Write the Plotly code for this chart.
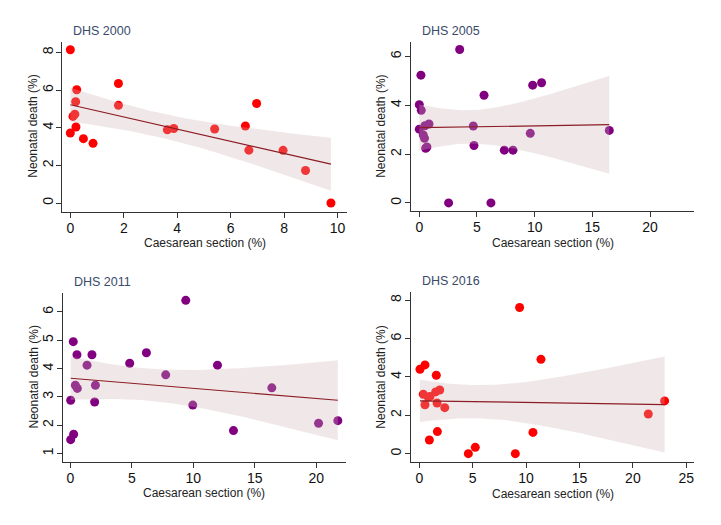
import numpy as np
import plotly.graph_objects as go

# DHS 2000
cs_2000 = [0.0, 1.80, 0.24, 0.20, 1.80, 6.97, 0.10, 0.17, 0.21, 0.0,
           0.49, 0.85, 3.63, 3.87, 5.40, 6.55, 6.68, 7.96, 8.80, 9.75]
nd_2000 = [8.14, 6.35, 6.02, 5.38, 5.19, 5.29, 4.60, 4.72, 4.04, 3.72,
           3.42, 3.17, 3.89, 3.96, 3.93, 4.09, 2.81, 2.80, 1.73, 0.0]

# DHS 2005
cs_2005 = [3.50, 0.14, 10.6, 9.83, 5.61, 0.0, 0.17, 0.84, 0.49, 0.0, 0.34,
           0.45, 0.66, 0.55, 4.68, 16.47, 9.62, 4.74, 7.37, 8.12, 2.54, 6.21]
nd_2005 = [6.28, 5.23, 4.92, 4.82, 4.41, 4.02, 3.79, 3.23, 3.16, 3.02, 2.78,
           2.65, 2.29, 2.24, 3.15, 2.97, 2.85, 2.35, 2.16, 2.16, 0.0, 0.0]

# DHS 2011
cs_2011 = [9.39, 0.24, 0.54, 1.76, 6.19, 4.83, 1.36, 11.97, 7.76, 0.41, 0.57,
           2.04, 16.39, 0.03, 1.98, 9.96, 21.76, 20.19, 13.27, 0.27, 0.03]
nd_2011 = [6.41, 4.95, 4.49, 4.49, 4.56, 4.19, 4.12, 4.12, 3.78, 3.41, 3.30,
           3.41, 3.32, 2.88, 2.82, 2.71, 2.16, 2.07, 1.81, 1.68, 1.49]

# DHS 2016
cs_2016 = [9.39, 11.39, 0.53, 0.06, 1.59, 1.91, 1.53, 0.37, 0.84, 1.00, 0.53,
           1.66, 2.38, 22.97, 21.44, 1.69, 0.94, 10.64, 5.24, 4.59, 8.99]
nd_2016 = [7.62, 4.92, 4.63, 4.40, 4.09, 3.32, 3.22, 3.10, 2.94, 2.98, 2.55,
           2.64, 2.40, 2.75, 2.07, 1.15, 0.71, 1.11, 0.33, 0.0, 0.0]

T95 = {17: 2.110, 18: 2.101, 19: 2.093, 20: 2.086, 21: 2.080, 22: 2.074}

panels = [
    ("DHS 2000", cs_2000, nd_2000, "#ff0000", [-0.3, 10.34], [-0.46, 8.57], 2, 2),
    ("DHS 2005", cs_2005, nd_2005, "#800080", [-0.72, 23.84], [-0.33, 6.6], 5, 2),
    ("DHS 2011", cs_2011, nd_2011, "#800080", [-0.62, 22.4], [0.69, 6.68], 5, 1),
    ("DHS 2016", cs_2016, nd_2016, "#ff0000", [-0.78, 25.75], [-0.45, 8.43], 5, 2),
]

# page body has an 8px margin, so the figure is drawn 8px smaller and boxes shifted
OFF = 8
W, H = 721 - OFF, 525 - OFF
# plot boxes in page pixels: left, right, top, bottom
boxes = [(62.3, 346.7, 41.7, 211.7), (411, 694.3, 41.7, 211.0),
         (62.7, 345.7, 292.7, 462.3), (411, 694.3, 292.0, 462.3)]
# axis title positions in page pixels: y-title x, x-title y
titlepos = [(33, 243), (381.5, 243), (33, 493), (381.5, 494)]

FONT = "Liberation Sans, Arial"
fig = go.Figure()
layout = {}
for i, (name, xs, ys, col, xr, yr, dx, dy) in enumerate(panels):
    xa = "x" if i == 0 else f"x{i+1}"
    ya = "y" if i == 0 else f"y{i+1}"
    x = np.array(xs)
    y = np.array(ys)
    n = len(x)
    b, a = np.polyfit(x, y, 1)
    resid = y - (a + b * x)
    s = np.sqrt((resid ** 2).sum() / (n - 2))
    sxx = ((x - x.mean()) ** 2).sum()
    grid = np.linspace(x.min(), x.max(), 100)
    fit = a + b * grid
    half = T95[n - 2] * s * np.sqrt(1 / n + (grid - x.mean()) ** 2 / sxx)

    fig.add_trace(go.Scatter(x=xs, y=ys, mode="markers", xaxis=xa, yaxis=ya,
                             marker=dict(color=col, size=9), showlegend=False))
    fig.add_trace(go.Scatter(x=np.concatenate([grid, grid[::-1]]),
                             y=np.concatenate([fit + half, (fit - half)[::-1]]),
                             fill="toself", fillcolor="rgba(205,178,178,0.3)",
                             line=dict(width=0), mode="lines", xaxis=xa, yaxis=ya,
                             showlegend=False, hoverinfo="skip"))
    fig.add_trace(go.Scatter(x=grid, y=fit, mode="lines", xaxis=xa, yaxis=ya,
                             line=dict(color="#8c1c24", width=1.2), showlegend=False))

    l, r, t, btm = [v - OFF for v in boxes[i]]
    common = dict(showgrid=False, zeroline=False, showline=True, linecolor="#333333",
                  linewidth=1, ticks="outside", ticklen=5, tickcolor="#333333",
                  tickfont=dict(family=FONT, size=14, color="#111111"),
                  mirror=False, automargin=False)
    layout["xaxis" + ("" if i == 0 else str(i + 1))] = dict(
        common, domain=[l / W, r / W], anchor=ya, range=xr, dtick=dx, tick0=0,
        ticklabelstandoff=-2)
    layout["yaxis" + ("" if i == 0 else str(i + 1))] = dict(
        common, domain=[1 - btm / H, 1 - t / H], anchor=xa, range=yr, dtick=dy, tick0=0,
        tickangle=-90, ticklabelstandoff=-2)

    ty_x, tx_y = titlepos[i]
    fig.add_annotation(text="Caesarean section (%)", xref="paper", yref="paper",
                       x=(l + r) / 2 / W, y=1 - (tx_y - OFF) / H, showarrow=False,
                       xanchor="center", yanchor="middle",
                       font=dict(family=FONT, size=12, color="#222222"))
    fig.add_annotation(text="Neonatal death (%)", xref="paper", yref="paper",
                       x=(ty_x - OFF) / W, y=1 - (t + btm) / 2 / H, showarrow=False,
                       textangle=-90, xanchor="center", yanchor="middle",
                       font=dict(family=FONT, size=12, color="#222222"))
    fig.add_annotation(text=name, xref="paper", yref="paper", x=(l + 9) / W,
                       y=1 - (t - 2) / H, xanchor="left", yanchor="bottom",
                       showarrow=False,
                       font=dict(family=FONT, size=12.5, color="#3a4a6a"))

fig.update_layout(width=W, height=H, margin=dict(l=0, r=0, t=0, b=0),
                  plot_bgcolor="white", paper_bgcolor="white", **layout)
fig.write_html("out.html")
